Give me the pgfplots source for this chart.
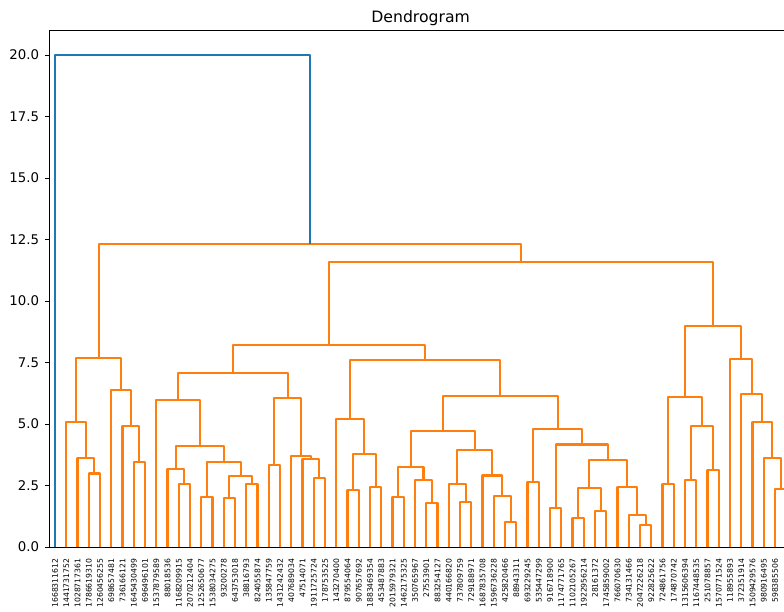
\documentclass[border=0pt]{standalone}
\usepackage{fontspec}
\setmainfont{DejaVu Sans}
\usepackage{pgfplots}
\pgfplotsset{compat=1.18}
\definecolor{c0}{HTML}{1F77B4}
\definecolor{c1}{HTML}{FF7F0E}
\tikzset{lk/.style={draw=c1, line width=1.8pt, line join=round, mark=none},
         lb/.style={draw=c0, line width=1.8pt, line join=round, mark=none}}
\begin{document}
\begin{tikzpicture}
\useasboundingbox (0,0) rectangle (653.33pt,509.17pt);
\clip (0,0) rectangle (653.33pt,509.17pt);
\begin{axis}[
  at={(41.17pt,53.33pt)}, anchor=south west,
  scale only axis, width=618.75pt, height=430.5pt,
  xmin=0, xmax=660, ymin=0, ymax=21,
  axis line style={line width=0.8pt, black},
  tick align=outside, major tick length=3.5pt,
  ytick={0,2.5,5,7.5,10,12.5,15,17.5,20},
  /pgf/number format/fixed, /pgf/number format/fixed zerofill,
  /pgf/number format/precision=1, /pgf/number format/assume math mode=true,
  yticklabel style={font=\fontsize{11.1}{13}\selectfont},
  yticklabel shift=1.6pt,
  ytick style={line width=0.8pt, black},
  xtick={5,15,...,655},
  xtick style={draw=none},
  xticklabels={1668311612,1441731752,1028717361,1786619310,1260456255,698657481,736166121,1645430499,696496101,1537879589,88018536,1168209915,2070212404,1252650677,1538034275,93200278,643753018,38816793,824055874,135847759,1431242432,407689034,47514071,1911725724,178753525,143270400,879554064,907657692,1883469354,453487883,2015979321,1462175325,350765967,27553901,883254127,440166820,737809759,729188971,1687835708,1596736228,425820466,88943311,693229245,535447299,916718900,1174771765,1102105267,1922956214,28161372,1745859002,766070630,734131466,2047226218,922825622,724861756,174870742,1315606394,1167448535,251078857,1570771524,118955893,372351914,1509429576,980916495,598385506,{}},
  xticklabel style={rotate=90, anchor=east, font=\fontsize{6.4}{7}\selectfont},
  xticklabel shift=2.7pt,
  title={Dendrogram},
  title style={at={(0.5,1)}, anchor=base, yshift=0.6pt, font=\fontsize{13.05}{15}\selectfont},
]
% cluster A
\addplot[lk] coordinates {(35,0)(35,2.99)(45,2.99)(45,0)};
\addplot[lk] coordinates {(25,0)(25,3.62)(40,3.62)(40,2.99)};
\addplot[lk] coordinates {(15,0)(15,5.07)(32.5,5.07)(32.5,3.62)};
% cluster B
\addplot[lk] coordinates {(75,0)(75,3.46)(85,3.46)(85,0)};
\addplot[lk] coordinates {(65,0)(65,4.92)(80,4.92)(80,3.46)};
\addplot[lk] coordinates {(55,0)(55,6.38)(72.5,6.38)(72.5,4.92)};
% L
\addplot[lk] coordinates {(23.75,5.07)(23.75,7.70)(63.75,7.70)(63.75,6.38)};
% cluster C
\addplot[lk] coordinates {(115,0)(115,2.55)(125,2.55)(125,0)};
\addplot[lk] coordinates {(105,0)(105,3.17)(120,3.17)(120,2.55)};
\addplot[lk] coordinates {(135,0)(135,2.05)(145,2.05)(145,0)};
\addplot[lk] coordinates {(155,0)(155,2.00)(165,2.00)(165,0)};
\addplot[lk] coordinates {(175,0)(175,2.56)(185,2.56)(185,0)};
\addplot[lk] coordinates {(160,2.00)(160,2.87)(180,2.87)(180,2.56)};
\addplot[lk] coordinates {(140,2.05)(140,3.47)(170,3.47)(170,2.87)};
\addplot[lk] coordinates {(112.5,3.17)(112.5,4.12)(155,4.12)(155,3.47)};
\addplot[lk] coordinates {(95,0)(95,5.96)(133.75,5.96)(133.75,4.12)};
% cluster H
\addplot[lk] coordinates {(195,0)(195,3.33)(205,3.33)(205,0)};
\addplot[lk] coordinates {(235,0)(235,2.82)(245,2.82)(245,0)};
\addplot[lk] coordinates {(225,0)(225,3.59)(240,3.59)(240,2.82)};
\addplot[lk] coordinates {(215,0)(215,3.71)(232.5,3.71)(232.5,3.59)};
\addplot[lk] coordinates {(200,3.33)(200,6.07)(223.75,6.07)(223.75,3.71)};
% G
\addplot[lk] coordinates {(114.375,5.96)(114.375,7.06)(211.875,7.06)(211.875,6.07)};
% cluster D
\addplot[lk] coordinates {(265,0)(265,2.33)(275,2.33)(275,0)};
\addplot[lk] coordinates {(285,0)(285,2.44)(295,2.44)(295,0)};
\addplot[lk] coordinates {(270,2.33)(270,3.78)(290,3.78)(290,2.44)};
\addplot[lk] coordinates {(255,0)(255,5.22)(280,5.22)(280,3.78)};
% cluster E1
\addplot[lk] coordinates {(305,0)(305,2.05)(315,2.05)(315,0)};
\addplot[lk] coordinates {(335,0)(335,1.80)(345,1.80)(345,0)};
\addplot[lk] coordinates {(325,0)(325,2.74)(340,2.74)(340,1.80)};
\addplot[lk] coordinates {(310,2.05)(310,3.24)(332.5,3.24)(332.5,2.74)};
\addplot[lk] coordinates {(365,0)(365,1.83)(375,1.83)(375,0)};
\addplot[lk] coordinates {(355,0)(355,2.56)(370,2.56)(370,1.83)};
\addplot[lk] coordinates {(405,0)(405,1.03)(415,1.03)(415,0)};
\addplot[lk] coordinates {(395,0)(395,2.07)(410,2.07)(410,1.03)};
\addplot[lk] coordinates {(385,0)(385,2.91)(402.5,2.91)(402.5,2.07)};
\addplot[lk] coordinates {(362.5,2.56)(362.5,3.96)(393.75,3.96)(393.75,2.91)};
\addplot[lk] coordinates {(321.25,3.24)(321.25,4.72)(378.125,4.72)(378.125,3.96)};
% cluster E2
\addplot[lk] coordinates {(425,0)(425,2.63)(435,2.63)(435,0)};
\addplot[lk] coordinates {(445,0)(445,1.60)(455,1.60)(455,0)};
\addplot[lk] coordinates {(465,0)(465,1.18)(475,1.18)(475,0)};
\addplot[lk] coordinates {(485,0)(485,1.48)(495,1.48)(495,0)};
\addplot[lk] coordinates {(470,1.18)(470,2.41)(490,2.41)(490,1.48)};
\addplot[lk] coordinates {(525,0)(525,0.89)(535,0.89)(535,0)};
\addplot[lk] coordinates {(515,0)(515,1.31)(530,1.31)(530,0.89)};
\addplot[lk] coordinates {(505,0)(505,2.44)(522.5,2.44)(522.5,1.31)};
\addplot[lk] coordinates {(480,2.41)(480,3.52)(513.75,3.52)(513.75,2.44)};
\addplot[lk] coordinates {(450,1.60)(450,4.17)(496.875,4.17)(496.875,3.52)};
\addplot[lk] coordinates {(430,2.63)(430,4.80)(473.4375,4.80)(473.4375,4.17)};
% E, I, J
\addplot[lk] coordinates {(349.6875,4.72)(349.6875,6.15)(451.71875,6.15)(451.71875,4.80)};
\addplot[lk] coordinates {(267.5,5.22)(267.5,7.59)(400.703,7.59)(400.703,6.15)};
\addplot[lk] coordinates {(163.125,7.06)(163.125,8.20)(334.102,8.20)(334.102,7.59)};
% cluster F1
\addplot[lk] coordinates {(545,0)(545,2.55)(555,2.55)(555,0)};
\addplot[lk] coordinates {(565,0)(565,2.71)(575,2.71)(575,0)};
\addplot[lk] coordinates {(585,0)(585,3.14)(595,3.14)(595,0)};
\addplot[lk] coordinates {(570,2.71)(570,4.92)(590,4.92)(590,3.14)};
\addplot[lk] coordinates {(550,2.55)(550,6.11)(580,6.11)(580,4.92)};
% cluster F2
\addplot[lk] coordinates {(645,0)(645,2.36)(655,2.36)(655,0)};
\addplot[lk] coordinates {(635,0)(635,3.63)(650,3.63)(650,2.36)};
\addplot[lk] coordinates {(625,0)(625,5.07)(642.5,5.07)(642.5,3.63)};
\addplot[lk] coordinates {(615,0)(615,6.23)(633.75,6.23)(633.75,5.07)};
\addplot[lk] coordinates {(605,0)(605,7.64)(624.375,7.64)(624.375,6.23)};
% F, K, M
\addplot[lk] coordinates {(565,6.11)(565,9.00)(614.6875,9.00)(614.6875,7.64)};
\addplot[lk] coordinates {(248.613,8.20)(248.613,11.57)(589.844,11.57)(589.844,9.00)};
\addplot[lk] coordinates {(43.75,7.70)(43.75,12.32)(419.229,12.32)(419.229,11.57)};
% root
\addplot[lb] coordinates {(5,0)(5,20.0)(231.489,20.0)(231.489,12.32)};
\end{axis}
\end{tikzpicture}
\end{document}
